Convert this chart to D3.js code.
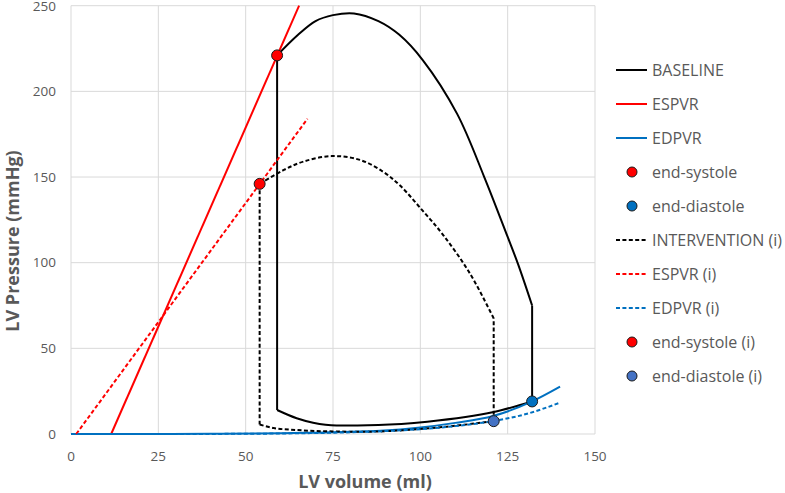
<!DOCTYPE html>
<html>
<head>
<meta charset="utf-8">
<script src="https://cdn.jsdelivr.net/npm/d3@7"></script>
<style>
  body { margin: 0; background: #fff; }
  svg { font-family: "Open Sans", Lato, sans-serif; }
  .grid line { stroke: #d9d9d9; stroke-width: 1; }
  .tick-label { fill: #595959; font-size: 13.5px; }
  .axis-title { fill: #595959; font-size: 18px; font-weight: bold; }
  .legend-text { fill: #595959; font-size: 16px; }
</style>
</head>
<body>
<div id="chart"></div>
<script>

// ---- data (volume ml, pressure mmHg) ----
var xTicks = [0, 25, 50, 75, 100, 125, 150];
var yTicks = [0, 50, 100, 150, 200, 250];

// baseline loop
var baseES = [59, 221];
var baseED = [132, 19];
var baseFilling = [[59, 14], [64.6, 9.2], [69.3, 6.6], [76, 5], [88, 5.3], [102, 7.2], [121, 12.8], [132, 19]];
var baseContraction = [[132, 19], [132, 75]];
var baseEjection = [[132, 75], [128, 99], [125, 115], [118.3, 150], [110.5, 187], [100.8, 218], [94, 233],
                    [88, 241], [81, 245.5], [75, 244.5], [70, 241], [65, 233], [59, 221]];
var baseRelaxation = [[59, 221], [59, 14]];

// intervention loop
var intES = [54, 146];
var intED = [121, 7.5];
var intFilling = [[54, 5.5], [58, 3.5], [64.6, 2.3], [75, 1.5], [83.6, 1.3], [95, 2.2], [107.6, 4.3], [121, 7.5]];
var intContraction = [[121, 7.5], [121, 67.5]];
var intEjection = [[121, 67.5], [114.2, 93.7], [106.6, 116], [100.6, 130.5], [94.2, 145], [89.4, 153],
                   [82.7, 160], [74.6, 162.2], [66.5, 159], [60.8, 154], [54, 146]];
var intRelaxation = [[54, 146], [54, 5.5]];

// pressure-volume relations
var espvr = [[11.5, 0], [65.3, 250]];
var espvrI = [[1.5, 0], [67.7, 184]];
var edpvr = [[0, 0], [20, 0], [40, 0.1], [60, 0.4], [70, 0.8], [80, 1.3], [88.5, 1.9], [100, 3.8],
             [110, 6.5], [120.8, 10.5], [132, 19], [140, 27.6]];
var edpvrI = [[0, 0], [20, 0], [40, 0.05], [60, 0.3], [80, 1], [90, 1.7], [100, 2.8], [110, 4.6],
              [121, 7.6], [130, 11.5], [140, 18.3]];

var DASH = "4,2.4";

var legendItems = [
    {name: "BASELINE", type: "line", color: "#000000", dash: null},
    {name: "ESPVR", type: "line", color: "#ff0000", dash: null},
    {name: "EDPVR", type: "line", color: "#0070c0", dash: null},
    {name: "end-systole", type: "dot", color: "#ff0000"},
    {name: "end-diastole", type: "dot", color: "#0070c0"},
    {name: "INTERVENTION (i)", type: "line", color: "#000000", dash: DASH},
    {name: "ESPVR (i)", type: "line", color: "#ff0000", dash: DASH},
    {name: "EDPVR (i)", type: "line", color: "#0070c0", dash: DASH},
    {name: "end-systole (i)", type: "dot", color: "#ff0000"},
    {name: "end-diastole (i)", type: "dot", color: "#4472c4"}
];

// ---- layout ----
var W = 785, H = 493;
var plot = {left: 71, right: 595, top: 5.7, bottom: 434};

var svg = d3.select("#chart").append("svg")
    .attr("width", W)
    .attr("height", H);

var x = d3.scaleLinear().domain([0, 150]).range([plot.left, plot.right]);
var y = d3.scaleLinear().domain([0, 250]).range([plot.bottom, plot.top]);

// gridlines
var grid = svg.append("g").attr("class", "grid");
grid.selectAll(".vg").data(xTicks).enter().append("line")
    .attr("x1", function(d) { return x(d); })
    .attr("x2", function(d) { return x(d); })
    .attr("y1", y(0)).attr("y2", y(250));
grid.selectAll(".hg").data(yTicks).enter().append("line")
    .attr("x1", x(0)).attr("x2", x(150))
    .attr("y1", function(d) { return y(d); })
    .attr("y2", function(d) { return y(d); });

// tick labels
svg.selectAll(".xl").data(xTicks).enter().append("text")
    .attr("class", "tick-label")
    .attr("x", function(d) { return x(d); })
    .attr("y", 460.5)
    .attr("text-anchor", "middle")
    .text(function(d) { return d; });
svg.selectAll(".yl").data(yTicks).enter().append("text")
    .attr("class", "tick-label")
    .attr("x", 56)
    .attr("y", function(d) { return Math.max(y(d) + 4.8, 11); })
    .attr("text-anchor", "end")
    .text(function(d) { return d; });

// axis titles
svg.append("text")
    .attr("class", "axis-title")
    .attr("x", 365)
    .attr("y", 488)
    .attr("text-anchor", "middle")
    .text("LV volume (ml)");
svg.append("text")
    .attr("class", "axis-title")
    .attr("transform", "translate(19,241) rotate(-90)")
    .attr("text-anchor", "middle")
    .text("LV Pressure (mmHg)");

// line generators
var straight = d3.line()
    .x(function(d) { return x(d[0]); })
    .y(function(d) { return y(d[1]); });
var smooth = d3.line()
    .curve(d3.curveCatmullRom.alpha(0.5))
    .x(function(d) { return x(d[0]); })
    .y(function(d) { return y(d[1]); });
var mono = d3.line()
    .curve(d3.curveMonotoneX)
    .x(function(d) { return x(d[0]); })
    .y(function(d) { return y(d[1]); });

function drawPath(gen, data, color, dash) {
    svg.append("path")
        .datum(data)
        .attr("d", gen)
        .attr("fill", "none")
        .attr("stroke", color)
        .attr("stroke-width", 2)
        .attr("stroke-dasharray", dash)
        .attr("stroke-linejoin", "round");
}

function drawDot(p, color) {
    svg.append("circle")
        .attr("cx", x(p[0]))
        .attr("cy", y(p[1]))
        .attr("r", 5.5)
        .attr("fill", color)
        .attr("stroke", "#1a1a1a")
        .attr("stroke-width", 1);
}

// baseline
drawPath(mono, baseFilling, "#000", null);
drawPath(straight, baseContraction, "#000", null);
drawPath(smooth, baseEjection, "#000", null);
drawPath(straight, baseRelaxation, "#000", null);
drawPath(straight, espvr, "#ff0000", null);
drawPath(mono, edpvr, "#0070c0", null);
drawDot(baseES, "#ff0000");
drawDot(baseED, "#0070c0");

// intervention
drawPath(mono, intFilling, "#000", DASH);
drawPath(straight, intContraction, "#000", DASH);
drawPath(smooth, intEjection, "#000", DASH);
drawPath(straight, intRelaxation, "#000", DASH);
drawPath(straight, espvrI, "#ff0000", DASH);
drawPath(mono, edpvrI, "#0070c0", DASH);
drawDot(intES, "#ff0000");
drawDot(intED, "#4472c4");

// legend
var legend = svg.append("g").attr("transform", "translate(616,70)");
var rows = legend.selectAll(".row").data(legendItems).enter().append("g")
    .attr("transform", function(d, i) { return "translate(0," + (i * 34) + ")"; });
rows.filter(function(d) { return d.type === "line"; }).append("line")
    .attr("x1", 0).attr("x2", 31)
    .attr("stroke", function(d) { return d.color; })
    .attr("stroke-width", 2)
    .attr("stroke-dasharray", function(d) { return d.dash; });
rows.filter(function(d) { return d.type === "dot"; }).append("circle")
    .attr("cx", 16).attr("r", 5)
    .attr("fill", function(d) { return d.color; })
    .attr("stroke", "#1a1a1a").attr("stroke-width", 1);
rows.append("text")
    .attr("class", "legend-text")
    .attr("x", 36)
    .attr("y", 6)
    .text(function(d) { return d.name; });

</script>
</body>
</html>
